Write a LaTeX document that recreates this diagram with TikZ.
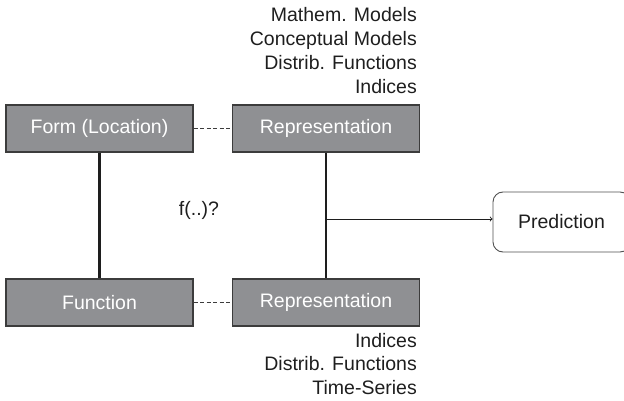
\documentclass[tikz,border=0pt]{standalone}
\usepackage{fontspec}
\setmainfont{Liberation Sans}
\usepackage{xcolor}
\definecolor{boxgray}{HTML}{8F9093}
\definecolor{edgegray}{HTML}{3C3C3C}
\definecolor{txtgray}{HTML}{1E1E1E}
\usepackage{tikz}

\begin{document}
\begin{tikzpicture}[x=1pt,y=1pt,align=center]

\useasboundingbox (0, 0) rectangle (624, 400);

\tikzstyle{blk}=[
	minimum width=187pt,
	minimum height=47pt,
	inner sep=0pt,
	rectangle,
	line width=1.3pt,
	draw=edgegray,
	fill=boxgray,
	text=white,
	font=\fontsize{19.5}{24}\selectfont
]
\tikzstyle{predbox}=[
	minimum width=137pt,
	minimum height=60pt,
	rectangle,
	rounded corners=10pt,
	line width=0.9pt,
	draw=edgegray!90,
	text=txtgray,
	font=\fontsize{19.5}{24}\selectfont
]
\tikzstyle{lst}=[
	inner sep=0pt,
	align=right,
	anchor=north east,
	text=txtgray
]
\tikzstyle{bar}=[line width=2.6pt, draw=txtgray]
\tikzstyle{lnk}=[line width=1pt, draw=edgegray, dash pattern=on 4pt off 2.5pt]
\tikzstyle{arr}=[->, >=to, line width=0.9pt, draw=txtgray]

\node[blk] (form) at (99.5, 271.5) {Form (Location)};
\node[blk] (repf) at (326, 271.5) {Representation};
\node[blk] (func) at (99.5, 97.5) {Function};
\node[blk] (repg) at (326, 97.5) {Representation};
\node[predbox] (pred) at (561.5, 178) {Prediction};

\draw[lnk] (form) -- (repf);
\draw[lnk] (func) -- (repg);

\draw[bar] (form) -- (func);
\draw[bar] (repf) -- (repg);

\coordinate (jn) at (326, 181);
\draw[arr] (jn) -- (pred.west |- jn);

\node[text=txtgray, font=\fontsize{19.5}{24}\selectfont] (fq) at (199, 190) {f(..)?};

\node[lst, font=\fontsize{19.5}{24}\selectfont] (upper) at (417, 393)
	{Mathem. Models\\Conceptual Models\\Distrib. Functions\\Indices};
\node[lst, font=\fontsize{19.5}{23.5}\selectfont] (lower) at (417, 67)
	{Indices\\Distrib. Functions\\Time-Series};

\end{tikzpicture}
\end{document}
